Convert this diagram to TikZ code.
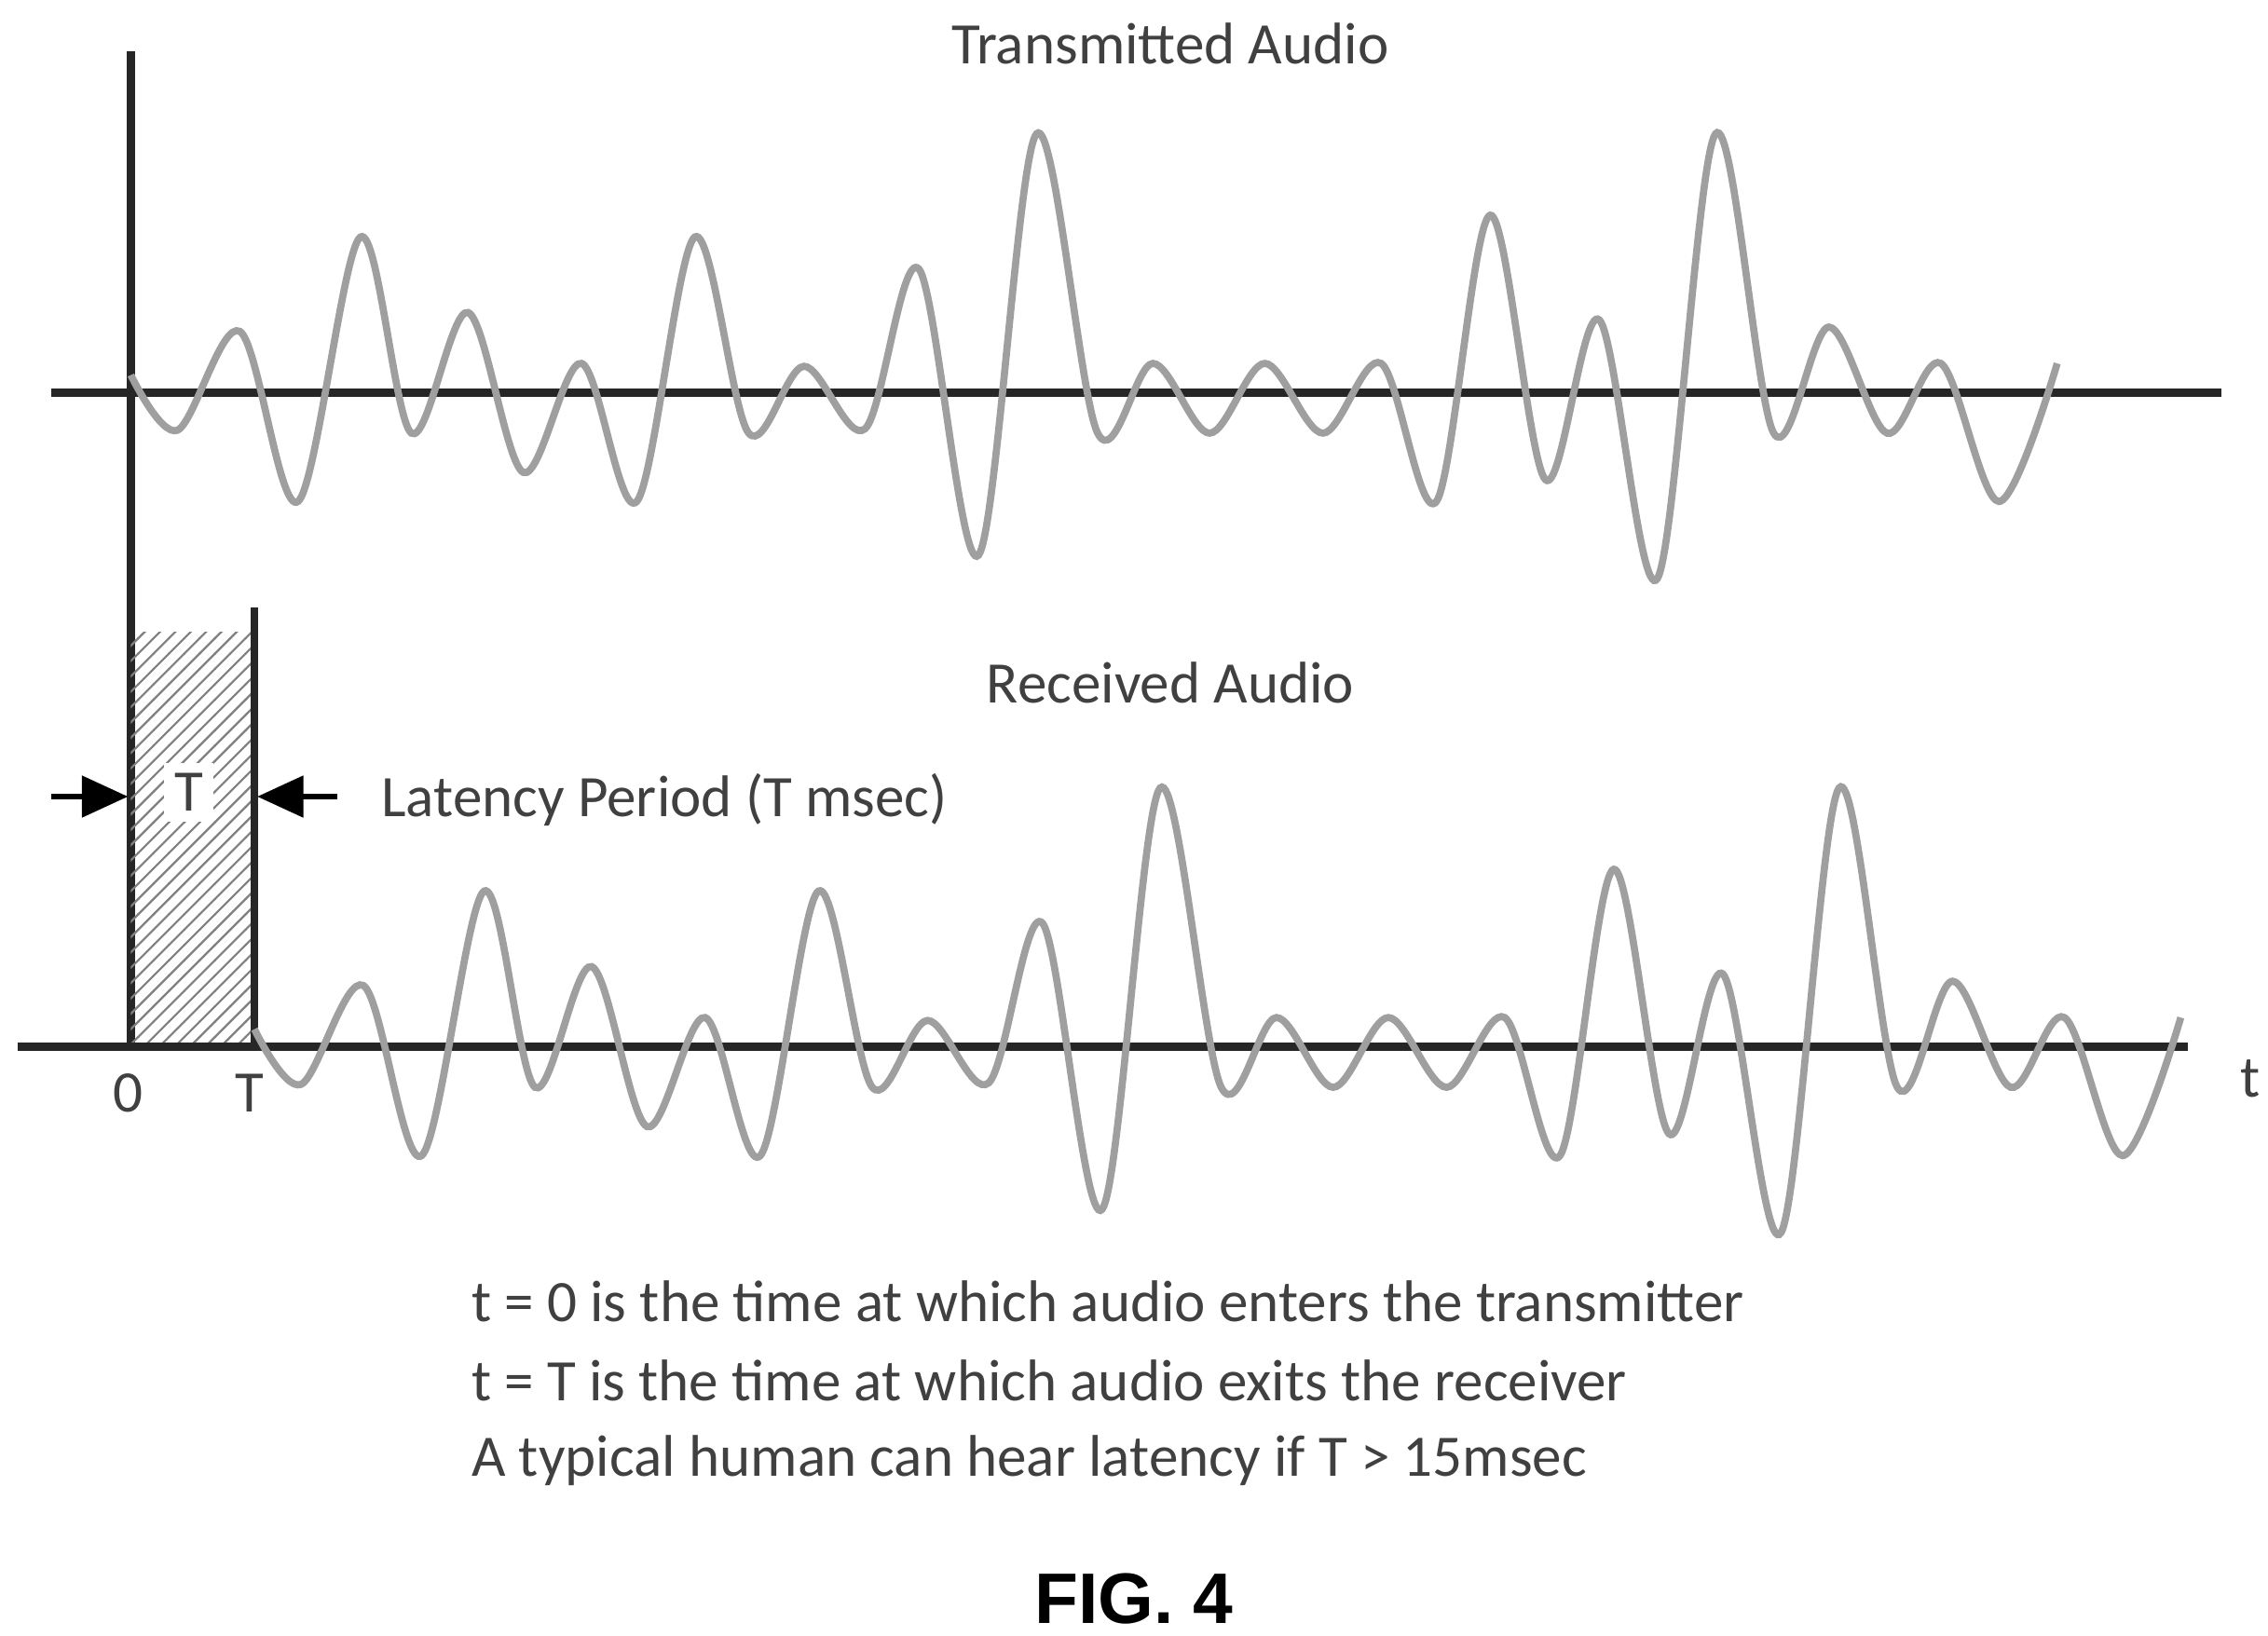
\documentclass[tikz,border=0pt]{standalone}
\usepackage{fontspec}
\setmainfont{Carlito}
\newfontfamily\figfont{Liberation Sans}
\usetikzlibrary{patterns,arrows.meta}
\newcommand{\audiowave}{%
  \draw[wave] plot[smooth,tension=0.55] coordinates {
    (90,258) (122,296) (165,228) (205,345) (248,163) (283,298) (322,215)
    (360,325) (400,250) (438,345) (478,163) (515,298) (553,252) (595,295)
    (632,185) (673,382) (713,92) (755,298) (793,250) (832,298) (870,250)
    (910,298) (950,250) (988,345) (1025,148) (1063,330) (1100,220)
    (1140,398) (1180,92) (1220,298) (1258,225) (1298,298) (1335,250)
    (1375,345) (1415,250)};}
\begin{document}
\begin{tikzpicture}[x=0.01cm,y=-0.01cm,
    axis/.style={line width=1.6pt,black!85},
    wave/.style={line width=1.4pt,gray!75},
    lbl/.style={font=\fontsize{11.5}{13}\selectfont,text=black!75},
    note/.style={lbl,anchor=west}]
\useasboundingbox (0,0) rectangle (1560,1125);
% transmitted audio
\node[lbl] (txt) at (805,30) {Transmitted Audio};
\draw[axis] (35,270) -- (1528,270);
\draw[axis] (90,35) -- (90,720);
\audiowave
% received audio
\node[lbl] (rxt) at (805,470) {Received Audio};
\fill[pattern=north east lines,pattern color=gray] (90,435) rectangle (175,720);
\draw[axis] (12,720) -- (1505,720);
\draw[axis] (175,418) -- (175,720);
\begin{scope}[shift={(85,450)}]
  \audiowave
\end{scope}
% latency
\node[lbl,fill=white,inner sep=2pt] (T) at (130,545) {T};
\coordinate (la) at (35,548);
\coordinate (lb) at (88,548);
\coordinate (ra) at (232,548);
\coordinate (rb) at (177,548);
\draw[line width=1pt,-{Triangle[length=9pt,width=8pt]}] (la) -- (lb);
\draw[line width=1pt,-{Triangle[length=9pt,width=8pt]}] (ra) -- (rb);
\node[note] (lat) at (250,550) {Latency Period (T msec)};
\node[lbl] (zero) at (88,752) {0};
\node[lbl] (tT) at (172,752) {T};
\node[lbl] (t) at (1548,742) {t};
% notes
\node[note] (n1) at (312,895) {t = 0 is the time at which audio enters the transmitter};
\node[note] (n2) at (312,950) {t = T is the time at which audio exits the receiver};
\node[note] (n3) at (312,1005) {A typical human can hear latency if T > 15msec};
\node[font=\figfont\bfseries\fontsize{14}{16}\selectfont] (fig) at (780,1100) {FIG. 4};
\end{tikzpicture}
\end{document}
